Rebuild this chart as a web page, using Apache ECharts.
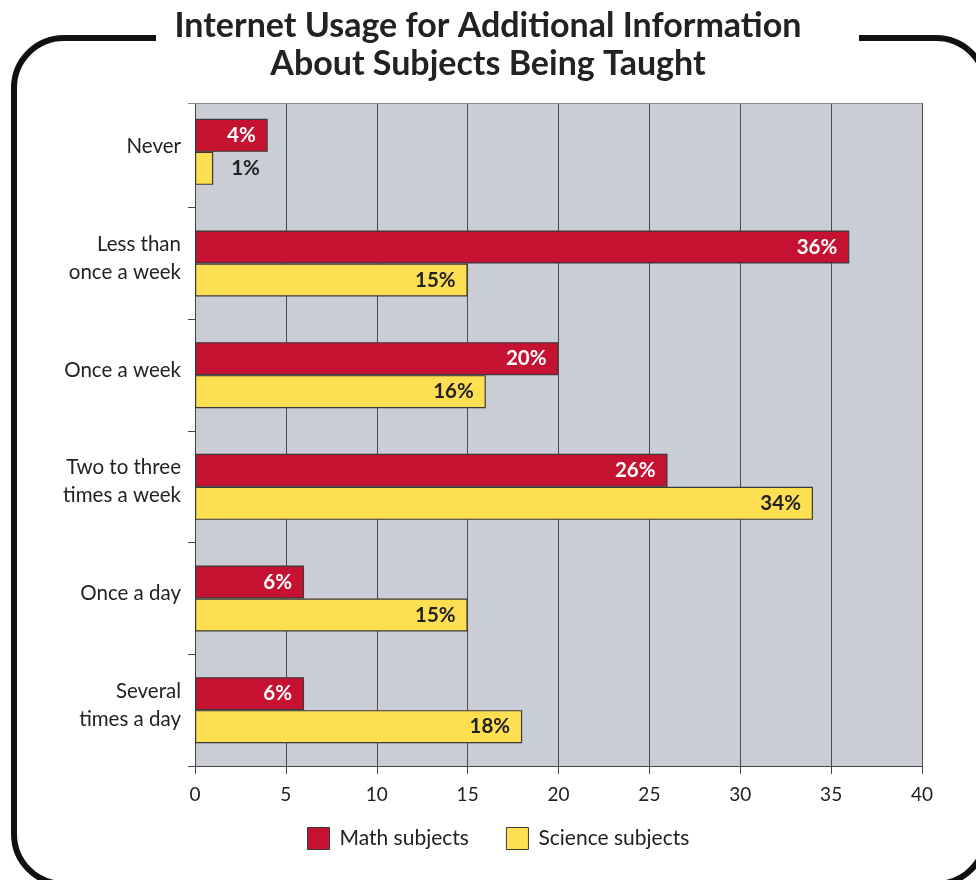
<!DOCTYPE html>
<html>
<head>
<meta charset="utf-8">
<script src="https://cdn.jsdelivr.net/npm/echarts@6/dist/echarts.min.js"></script>
<style>
  html, body { margin: 0; padding: 0; background: #ffffff; }
  #chart { width: 976px; height: 880px; }
</style>
</head>
<body>
<div id="chart"></div>
<script>
// How often the Internet is used for additional information, by subject area (%)
const categories = [
  'Never',
  'Less than\nonce a week',
  'Once a week',
  'Two to three\ntimes a week',
  'Once a day',
  'Several\ntimes a day'
];
const mathValues = [4, 36, 20, 26, 6, 6];
const scienceValues = [1, 15, 16, 34, 15, 18];
const xTicks = [0, 5, 10, 15, 20, 25, 30, 35, 40];
const seriesNames = ['Math subjects', 'Science subjects'];

const FONT = 'Lato, "Open Sans", sans-serif';
const RED = '#c41230';
const YELLOW = '#ffdf52';
const PLOT_BG = '#cacdd5';

// Small bars get their label just outside the bar end
function barData(values, insideColor) {
  return values.map(v => {
    if (v < 3) {
      return { value: v, label: { position: 'right', color: '#222', distance: 18 } };
    }
    return { value: v, label: { color: insideColor } };
  });
}

// Category names sit slightly above the band centre: a short empty
// trailing line lifts each label block a few pixels.
function categoryLabel(name) {
  return name.split('\n').map(line => '{t|' + line + '}').join('\n') + '\n{s| }';
}

const chart = echarts.init(document.getElementById('chart'), null, { renderer: 'canvas' });

chart.setOption({
  backgroundColor: '#ffffff',
  animation: false,
  graphic: [
    {
      // rounded frame around the figure
      type: 'rect',
      z: -10,
      shape: { x: 14, y: 38, width: 972, height: 846, r: 50 },
      style: { fill: 'none', stroke: '#111', lineWidth: 6 }
    },
    {
      // gap in the frame behind the title
      type: 'rect',
      z: -9,
      shape: { x: 156, y: 28, width: 703, height: 20 },
      style: { fill: '#ffffff' }
    },
    {
      // plot area starts a little below the first category band
      type: 'rect',
      z: 50,
      shape: { x: 180, y: 90, width: 750, height: 13 },
      style: { fill: '#ffffff' }
    },
    {
      type: 'line',
      z: 51,
      shape: { x1: 188, y1: 103.5, x2: 922.5, y2: 103.5 },
      style: { stroke: '#8a8a8a', lineWidth: 1 }
    },
    {
      type: 'text',
      z: 60,
      left: 'center',
      top: 7,
      style: {
        text: 'Internet Usage for Additional Information\nAbout Subjects Being Taught',
        font: 'bold 34px ' + FONT,
        fill: '#222',
        textAlign: 'center',
        lineHeight: 38
      }
    }
  ],
  grid: {
    left: 195,
    right: 54,
    top: 96,
    bottom: 114,
    show: true,
    backgroundColor: PLOT_BG,
    borderWidth: 0
  },
  legend: {
    top: 822,
    left: 302,
    icon: 'rect',
    itemWidth: 22,
    itemHeight: 22,
    itemGap: 37,
    itemStyle: { borderColor: '#3a3a3a', borderWidth: 1 },
    textStyle: { fontFamily: FONT, fontSize: 21, color: '#222', padding: [0, 0, 0, 5] },
    data: seriesNames
  },
  xAxis: {
    type: 'value',
    min: xTicks[0],
    max: xTicks[xTicks.length - 1],
    interval: 5,
    axisLine: { show: true, lineStyle: { color: '#444', width: 1 } },
    axisTick: { show: true, length: 8, lineStyle: { color: '#444' } },
    axisLabel: { fontFamily: FONT, fontSize: 19, color: '#222', margin: 19 },
    splitLine: { show: true, lineStyle: { color: '#4a4a4a', width: 1 } }
  },
  yAxis: {
    type: 'category',
    inverse: true,
    data: categories,
    axisLine: { show: true, lineStyle: { color: '#444', width: 1 } },
    axisTick: { show: true, length: 7, lineStyle: { color: '#444' } },
    axisLabel: {
      margin: 14,
      align: 'right',
      formatter: categoryLabel,
      rich: {
        t: { fontFamily: FONT, fontSize: 20.5, color: '#222', lineHeight: 28, align: 'right' },
        s: { fontSize: 4, lineHeight: 10 }
      }
    }
  },
  series: [
    {
      name: seriesNames[0],
      type: 'bar',
      data: barData(mathValues, '#ffffff'),
      barWidth: 33,
      barGap: '0%',
      itemStyle: { color: RED, borderColor: '#3a3a3a', borderWidth: 1.2 },
      label: {
        show: true,
        position: 'insideRight',
        distance: 12,
        formatter: p => p.value + '%',
        fontFamily: FONT,
        fontWeight: 'bold',
        fontSize: 20.5,
        color: '#ffffff'
      }
    },
    {
      name: seriesNames[1],
      type: 'bar',
      data: barData(scienceValues, '#222'),
      barWidth: 33,
      barGap: '0%',
      itemStyle: { color: YELLOW, borderColor: '#3a3a3a', borderWidth: 1.2 },
      label: {
        show: true,
        position: 'insideRight',
        distance: 12,
        formatter: p => p.value + '%',
        fontFamily: FONT,
        fontWeight: 'bold',
        fontSize: 20.5,
        color: '#222'
      }
    }
  ]
});
</script>
</body>
</html>
